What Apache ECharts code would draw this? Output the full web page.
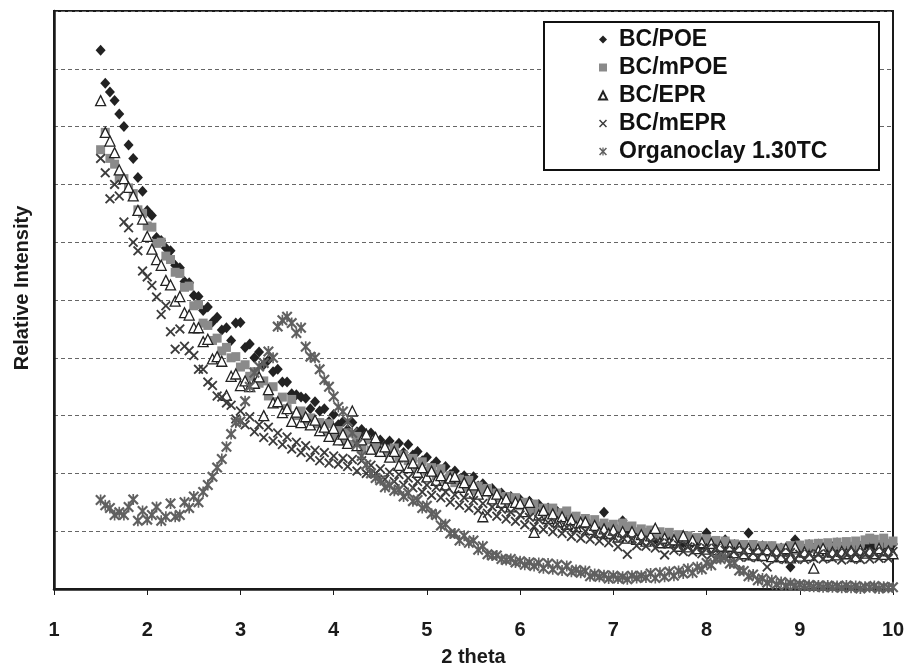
<!DOCTYPE html>
<html>
<head>
<meta charset="utf-8">
<script src="https://cdn.jsdelivr.net/npm/echarts@6/dist/echarts.min.js"></script>
<style>
html,body{margin:0;padding:0;background:#fff;}
#chart{width:906px;height:671px;}
</style>
</head>
<body>
<div id="chart"></div>
<script>
const theta = [
1.50,1.55,1.60,1.65,1.70,1.75,1.80,1.85,1.90,1.95,
2.00,2.05,2.10,2.15,2.20,2.25,2.30,2.35,2.40,2.45,
2.50,2.55,2.60,2.65,2.70,2.75,2.80,2.85,2.90,2.95,
3.00,3.05,3.10,3.15,3.20,3.25,3.30,3.35,3.40,3.45,
3.50,3.55,3.60,3.65,3.70,3.75,3.80,3.85,3.90,3.95,
4.00,4.05,4.10,4.15,4.20,4.25,4.30,4.35,4.40,4.45,
4.50,4.55,4.60,4.65,4.70,4.75,4.80,4.85,4.90,4.95,
5.00,5.05,5.10,5.15,5.20,5.25,5.30,5.35,5.40,5.45,
5.50,5.55,5.60,5.65,5.70,5.75,5.80,5.85,5.90,5.95,
6.00,6.05,6.10,6.15,6.20,6.25,6.30,6.35,6.40,6.45,
6.50,6.55,6.60,6.65,6.70,6.75,6.80,6.85,6.90,6.95,
7.00,7.05,7.10,7.15,7.20,7.25,7.30,7.35,7.40,7.45,
7.50,7.55,7.60,7.65,7.70,7.75,7.80,7.85,7.90,7.95,
8.00,8.05,8.10,8.15,8.20,8.25,8.30,8.35,8.40,8.45,
8.50,8.55,8.60,8.65,8.70,8.75,8.80,8.85,8.90,8.95,
9.00,9.05,9.10,9.15,9.20,9.25,9.30,9.35,9.40,9.45,
9.50,9.55,9.60,9.65,9.70,9.75,9.80,9.85,9.90,9.95,
10.00];

const bcPOE = [
932,875,860,845,822,800,768,745,712,688,
655,646,608,603,590,585,560,556,532,530,
508,506,482,488,462,470,448,452,430,460,
461,418,424,400,410,388,396,376,380,358,
358,338,336,332,330,312,324,308,312,290,
302,284,290,276,288,272,276,266,270,256,
258,248,256,240,252,236,250,232,238,222,
228,212,220,204,212,198,204,190,196,184,
194,178,182,170,174,160,166,158,160,148,
155,144,152,140,146,136,140,128,134,124,
130,118,124,114,120,110,116,106,133,104,
110,100,118,96,102,94,98,88,96,86,
92,86,90,82,88,80,85,80,84,76,
97,78,80,74,85,72,77,72,75,97,
74,67,75,66,73,69,71,66,38,85,
75,68,77,70,78,68,75,73,80,71,
79,72,76,74,77,73,75,72,80,71,
78];

const bcMPOE = [
760,790,745,735,712,710,694,684,656,650,
628,626,598,600,576,570,548,546,522,524,
490,492,460,456,430,434,412,418,400,402,
384,388,368,376,356,360,334,350,324,332,
312,328,300,308,292,296,286,288,272,286,
264,274,256,270,250,264,242,258,240,246,
236,242,232,244,226,232,222,226,208,220,
204,210,196,208,190,196,184,190,176,188,
170,178,172,174,160,166,158,160,146,158,
144,150,136,147,134,140,128,140,126,132,
135,120,126,116,122,111,120,108,114,108,
112,102,114,108,109,99,104,98,102,93,
99,89,98,88,94,88,92,84,89,83,
87,79,84,75,83,74,78,74,77,70,
77,70,75,68,75,67,71,68,75,67,
76,69,78,70,79,71,80,72,81,73,
82,74,83,75,85,88,86,77,88,79,
83];

const bcEPR = [
845,790,775,755,725,710,695,680,655,640,
610,588,570,560,534,526,498,506,478,474,
452,452,428,432,398,402,394,335,368,372,
352,360,350,356,367,300,345,322,324,305,
312,290,306,288,298,284,292,274,280,264,
278,258,268,252,308,248,258,268,242,262,
238,246,228,238,214,230,210,218,202,210,
194,204,188,196,180,192,195,176,184,166,
180,164,125,170,156,164,150,156,142,150,
148,134,150,98,128,136,122,130,116,125,
112,120,108,115,116,103,110,98,104,96,
102,90,99,88,99,86,94,83,92,105,
80,88,80,85,74,92,73,84,70,80,
69,79,68,74,64,74,63,72,61,70,
59,69,58,68,56,66,56,70,54,72,
57,64,58,36,66,70,58,64,59,65,
61,66,56,67,62,66,61,70,60,66,
61];

const bcMEPR = [
745,720,675,700,680,635,625,600,585,550,
540,525,505,475,490,445,415,450,420,412,
404,380,380,358,352,334,332,322,318,294,
308,284,298,272,284,262,280,256,270,250,
263,242,254,236,248,228,240,222,236,218,
230,216,226,212,224,204,222,200,214,200,
208,190,202,186,198,180,192,175,186,168,
180,162,176,158,168,150,163,145,158,140,
153,136,148,131,142,126,138,121,133,117,
128,111,124,108,120,103,115,99,112,96,
107,91,103,88,100,86,96,83,94,80,
91,73,89,60,87,75,83,74,82,71,
80,59,79,67,76,65,73,64,72,61,
70,59,71,58,67,59,66,55,67,55,
63,54,64,38,64,52,63,51,63,52,
60,51,61,53,60,52,61,53,62,50,
63,52,64,51,63,52,64,53,65,53,
65];

const organoclay = [
154,145,140,128,133,128,142,155,118,135,
120,128,142,118,125,148,125,128,150,140,
160,150,168,180,194,210,225,246,268,288,
290,325,350,374,385,391,411,400,454,465,
471,460,443,452,419,402,400,380,362,350,
333,315,307,290,270,250,230,215,200,192,
188,176,180,170,172,160,166,152,154,140,
144,130,128,110,112,96,96,84,92,80,
84,68,74,60,58,58,52,50,52,46,
48,42,46,40,45,36,44,34,42,32,
40,30,33,28,31,22,26,21,24,18,
23,18,21,17,23,19,23,20,27,19,
28,21,30,23,31,27,35,28,38,34,
45,41,53,52,55,44,45,32,31,22,
25,15,18,11,15,8,12,6,10,6,
8,5,7,4,6,3,6,3,5,2,
6,2,5,1,4,3,5,1,4,2,
3];

const seriesNames = ['BC/POE','BC/mPOE','BC/EPR','BC/mEPR','Organoclay 1.30TC'];
const xTicks = [1,2,3,4,5,6,7,8,9,10];

const FONT = '"Liberation Sans", Arial, Helvetica, sans-serif';
const CROSS = 'path://M0,1.3L1.3,0L5,3.7L8.7,0L10,1.3L6.3,5L10,8.7L8.7,10L5,6.3L1.3,10L0,8.7L3.7,5Z';
const STAR = 'path://M0,1.4L1.4,0L5,3.6L8.6,0L10,1.4L6.4,5L10,8.6L8.6,10L5,6.4L1.4,10L0,8.6L3.6,5Z M4.25,0L5.75,0L5.75,10L4.25,10Z';

function pairs(arr){ return theta.map((t,i)=>[t, arr[i]]); }

const chart = echarts.init(document.getElementById('chart'), null, {renderer:'canvas'});
chart.setOption({
  animation:false,
  backgroundColor:'#fff',
  grid:{left:54,right:13,top:11,bottom:82,containLabel:false,outerBoundsMode:'none',
    show:true,borderColor:'#1a1a1a',borderWidth:2,backgroundColor:'transparent'},
  xAxis:{
    type:'value',min:1,max:10,interval:1,
    axisLine:{show:true,onZero:false,lineStyle:{color:'#1a1a1a',width:2.5}},
    axisTick:{show:true,inside:false,length:6,lineStyle:{color:'#1a1a1a',width:1}},
    axisLabel:{margin:31,fontSize:20,fontWeight:'bold',color:'#1a1a1a',fontFamily:FONT,
      formatter:function(v){ return xTicks.indexOf(v)>=0 ? String(v) : ''; }},
    splitLine:{show:false},
    name:'2 theta',nameLocation:'middle',nameGap:58,
    nameTextStyle:{fontSize:20,fontWeight:'bold',color:'#1a1a1a',fontFamily:FONT}
  },
  yAxis:{
    type:'value',min:0,max:1000,interval:100,
    axisLine:{show:true,lineStyle:{color:'#1a1a1a',width:2.5}},
    axisTick:{show:false},
    axisLabel:{show:false},
    splitLine:{show:true,lineStyle:{color:'#666',width:1,type:[4,3]}}
  },
  legend:{
    orient:'vertical',left:598,top:28,padding:0,itemGap:5,
    itemWidth:8,itemHeight:8,z:200,
    data:seriesNames,
    textStyle:{fontSize:23,fontWeight:'bold',color:'#111',fontFamily:FONT,lineHeight:23,padding:[0,0,0,7]}
  },
  graphic:[
    {type:'rect',z:150,shape:{x:544,y:22,width:335,height:148},style:{fill:'#fff',stroke:'#111',lineWidth:2}},
    {type:'text',z:150,x:22,y:288,rotation:Math.PI/2,
      style:{text:'Relative Intensity',fill:'#1a1a1a',font:'bold 20px '+FONT,align:'center',verticalAlign:'middle'}}
  ],
  series:[
    {name:seriesNames[0],type:'scatter',symbol:'diamond',symbolSize:[10,11],
      itemStyle:{color:'#222',opacity:1},data:pairs(bcPOE)},
    {name:seriesNames[1],type:'scatter',symbol:'rect',symbolSize:9,
      itemStyle:{color:'#8a8a8a',opacity:1},data:pairs(bcMPOE)},
    {name:seriesNames[2],type:'scatter',symbol:'triangle',symbolSize:10,
      itemStyle:{color:'#fff',borderColor:'#222',borderWidth:1.3,opacity:1},data:pairs(bcEPR)},
    {name:seriesNames[3],type:'scatter',symbol:CROSS,symbolSize:10,
      itemStyle:{color:'#3c3c3c',opacity:1},data:pairs(bcMEPR)},
    {name:seriesNames[4],type:'scatter',symbol:STAR,symbolSize:11,
      itemStyle:{color:'#606060',opacity:1},data:pairs(organoclay)}
  ]
});
</script>
</body>
</html>
